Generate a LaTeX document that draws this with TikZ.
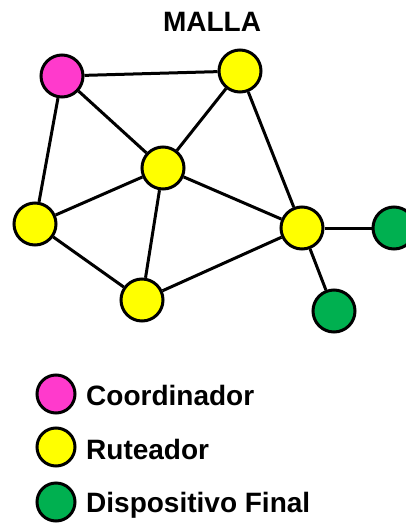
\documentclass[tikz,border=0pt]{standalone}
\usepackage{fontspec}
\setmainfont{Liberation Sans}
\definecolor{coordpink}{HTML}{FF3ACC}
\definecolor{routeryellow}{HTML}{FFFF00}
\definecolor{endgreen}{HTML}{00B050}
\tikzset{
  dev/.style={circle, draw=black, line width=3pt, minimum size=42pt, inner sep=0pt},
  coord/.style={dev, fill=coordpink},
  router/.style={dev, fill=routeryellow},
  enddev/.style={dev, fill=endgreen},
  link/.style={line width=3pt, black},
  keydot/.style={dev, minimum size=38pt},
  keytext/.style={anchor=base west, inner sep=0pt, font=\fontsize{28}{32}\selectfont\bfseries}
}
\begin{document}
\begin{tikzpicture}[x=1pt, y=-1pt]
  \clip (0,0) rectangle (406,525);
  \fill[white] (0,0) rectangle (406,525);

  % title
  \node[font=\fontsize{28}{32}\selectfont\bfseries] (title) at (212,22) {MALLA};

  % mesh nodes
  \node[coord]  (c)  at (62,76)   {};
  \node[router] (rt) at (240,71)  {};
  \node[router] (rc) at (163,168) {};
  \node[router] (rl) at (35,224)  {};
  \node[router] (rb) at (142,300) {};
  \node[router] (rr) at (302,228) {};
  \node[enddev] (er) at (394,228) {};
  \node[enddev] (eb) at (334,311) {};

  % links
  \draw[link] (c) -- (rt);
  \draw[link] (c) -- (rc);
  \draw[link] (c) -- (rl);
  \draw[link] (rt) -- (rc);
  \draw[link] (rt) -- (rr);
  \draw[link] (rc) -- (rl);
  \draw[link] (rc) -- (rb);
  \draw[link] (rc) -- (rr);
  \draw[link] (rl) -- (rb);
  \draw[link] (rb) -- (rr);
  \draw[link] (rr) -- (er);
  \draw[link] (rr) -- (eb);

  % legend
  \node[keydot, fill=coordpink]    (k1) at (56,394) {};
  \node[keydot, fill=routeryellow] (k2) at (56,447) {};
  \node[keydot, fill=endgreen]     (k3) at (56,502) {};
  \node[keytext] (t1) at (86,405) {Coordinador};
  \node[keytext] (t2) at (86,459) {Ruteador};
  \node[keytext] (t3) at (86,512) {Dispositivo Final};
\end{tikzpicture}
\end{document}
